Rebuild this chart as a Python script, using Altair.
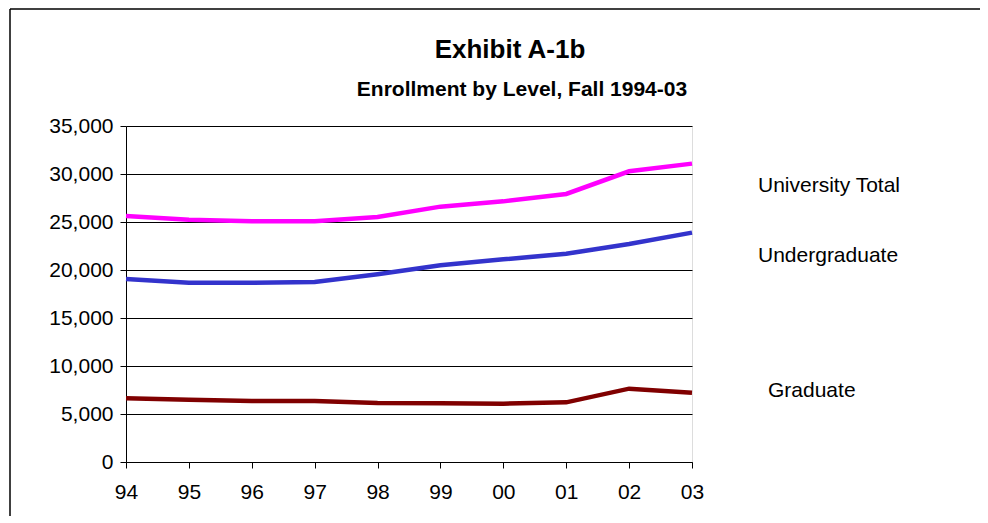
import altair as alt
import pandas as pd

years = ["94", "95", "96", "97", "98", "99", "00", "01", "02", "03"]
university_total = [25620, 25240, 25070, 25070, 25520, 26600, 27150, 27920, 30280, 31080]
undergraduate = [19060, 18680, 18680, 18750, 19550, 20490, 21110, 21700, 22710, 23890]
graduate = [6630, 6490, 6350, 6350, 6150, 6110, 6080, 6215, 7640, 7220]

series_names = ["University Total", "Undergraduate", "Graduate"]
series_colors = ["#FF00FF", "#3333CC", "#800000"]
label_levels = [28750, 21460, 7400]

rows = []
for name, vals in zip(series_names, [university_total, undergraduate, graduate]):
    for y, v in zip(years, vals):
        rows.append({"Year": y, "Series": name, "Enrollment": v})
df = pd.DataFrame(rows)

FONT = "Liberation Sans"

x_enc = alt.X(
    "Year:O",
    sort=years,
    scale=alt.Scale(type="point", padding=0),
    axis=alt.Axis(
        title=None, labelAngle=0, labelFontSize=21, labelFont=FONT, labelColor="black",
        tickSize=6, tickColor="black", domainColor="black", labelPadding=13, grid=False,
    ),
)
y_enc = alt.Y(
    "Enrollment:Q",
    scale=alt.Scale(domain=[0, 35000]),
    axis=alt.Axis(
        title=None, values=[0, 5000, 10000, 15000, 20000, 25000, 30000, 35000], format=",.0f",
        labelFontSize=21, labelFont=FONT, labelColor="black", tickSize=6, tickColor="black",
        domainColor="black", labelPadding=7, grid=True, gridColor="black", gridWidth=1,
    ),
)

lines = alt.Chart(df).mark_line(strokeWidth=4.5).encode(
    x=x_enc,
    y=y_enc,
    color=alt.Color("Series:N", scale=alt.Scale(domain=series_names, range=series_colors), legend=None),
)

one = pd.DataFrame({"a": [0]})
border_top = alt.Chart(one).mark_rule(stroke="black", strokeWidth=1.5).encode(
    x=alt.value(-116), x2=alt.value(860), y=alt.value(-117)
)
border_left = alt.Chart(one).mark_rule(stroke="black", strokeWidth=1.5).encode(
    x=alt.value(-116), y=alt.value(-117), y2=alt.value(390)
)

label_layers = []
for name, level, xpos in zip(series_names, label_levels, [632, 632, 642]):
    ldf = pd.DataFrame({"label": [name], "Enrollment": [level]})
    label_layers.append(
        alt.Chart(ldf).mark_text(
            align="left", baseline="middle", fontSize=21, font=FONT, color="black"
        ).encode(
            text="label:N",
            x=alt.value(xpos),
            y=alt.Y("Enrollment:Q"),
        )
    )

title_df = pd.DataFrame({"t": ["Exhibit A-1b"]})
title = alt.Chart(title_df).mark_text(
    align="center", baseline="alphabetic", fontSize=26, font=FONT, fontWeight="bold", color="black"
).encode(text="t:N", x=alt.value(384), y=alt.value(-68))

sub_df = pd.DataFrame({"t": ["Enrollment by Level, Fall 1994-03"]})
subtitle = alt.Chart(sub_df).mark_text(
    align="center", baseline="alphabetic", fontSize=21, font=FONT, fontWeight="bold", color="black"
).encode(text="t:N", x=alt.value(396), y=alt.value(-30))

chart = alt.layer(border_top, border_left, lines, *label_layers, title, subtitle).properties(
    width=566,
    height=336,
    autosize=alt.AutoSizeParams(type="none"),
    padding={"left": 118, "top": 118, "right": 288, "bottom": 54},
).configure_view(stroke=None).configure(background="white")

chart.save("out.html", embed_options={"renderer": "svg", "actions": False})
